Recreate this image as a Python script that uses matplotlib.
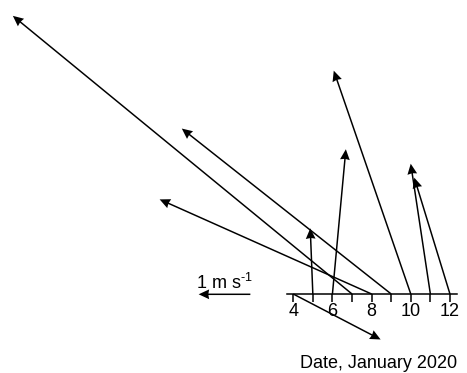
import numpy as np
import matplotlib
matplotlib.use("Agg")
import matplotlib.pyplot as plt

plt.rcParams['font.family'] = ['Liberation Sans', 'DejaVu Sans']
plt.rcParams['mathtext.fontset'] = 'custom'
plt.rcParams['mathtext.rm'] = 'Liberation Sans'
plt.rcParams['mathtext.default'] = 'regular'

# daily mean wind vectors, m/s (u eastward, v northward)
days = [4, 5, 6, 7, 8, 9, 10, 11, 12]
u = [1.69, -0.05, 0.26, -6.56, -4.10, -4.05, -1.49, -0.38, -0.69]
v = [-0.88, 1.27, 2.80, 5.38, 1.83, 3.20, 4.32, 2.52, 2.25]
tick_labels = ['4', '', '6', '', '8', '', '10', '', '12']

fig = plt.figure(figsize=(4.67, 3.73), dpi=100)
ax = fig.add_axes([0, 0, 1, 1])
ax.set_xlim(-10.97, 12.87)
ax.set_ylim(-0.2118, 0.7882)

q = ax.quiver(days, np.zeros(len(days)), u, v, angles='uv', pivot='tail',
              scale_units='inches', scale=1 / 0.517, units='inches',
              width=0.015, headwidth=6.5, headlength=7, headaxislength=6.5,
              color='black', zorder=3)

ax.quiverkey(q, 224.5 / 467, (373 - 294.3) / 373, 1, r'1 m s$^{\text{-}1}$',
             angle=180, labelpos='N', labelsep=0.01, coordinates='figure',
             fontproperties={'size': 13})

# time axis along y = 0
for side in ['top', 'left', 'right']:
    ax.spines[side].set_visible(False)
ax.spines['bottom'].set_position(('data', 0))
ax.spines['bottom'].set_bounds(3.69, 12.34)
ax.spines['bottom'].set_linewidth(1.1)
ax.set_xticks(days)
ax.set_xticklabels(tick_labels)
ax.tick_params(axis='x', direction='out', length=5.8, width=1.1, pad=1.0,
               labelsize=13)
ax.set_yticks([])

fig.text(456.7 / 467, (373 - 368.5) / 373, 'Date, January 2020',
         ha='right', va='baseline', fontsize=13)

fig.savefig('out.png', dpi=100)
